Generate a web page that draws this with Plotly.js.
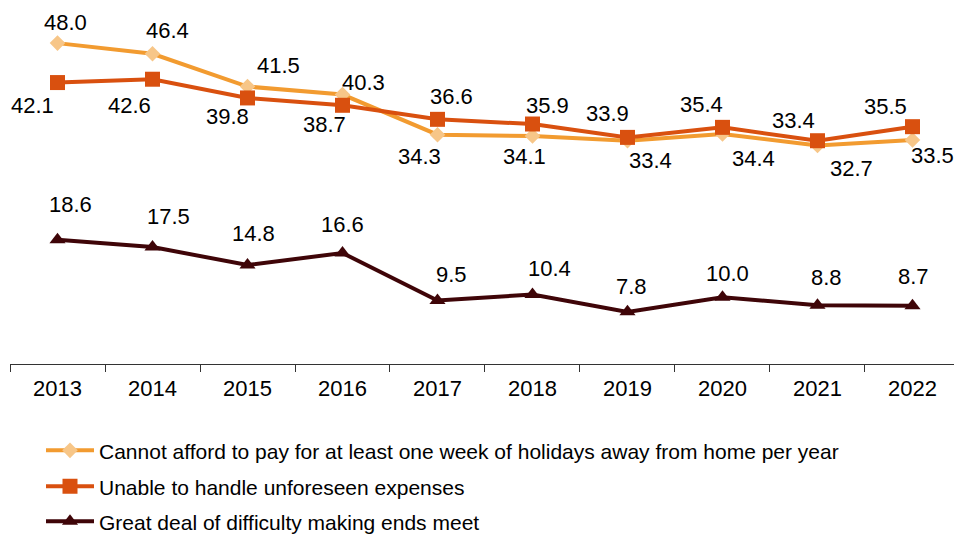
<!DOCTYPE html>
<html>
<head>
<meta charset="utf-8">
<script src="https://cdn.plot.ly/plotly-3.0.1.min.js"></script>
<style>html,body{margin:0;padding:0;background:#fff;}#chart{width:954px;height:535px;}</style>
</head>
<body>
<div id="chart"></div>
<script>
const years = ["2013","2014","2015","2016","2017","2018","2019","2020","2021","2022"];
const holidays = [48.0, 46.4, 41.5, 40.3, 34.3, 34.1, 33.4, 34.4, 32.7, 33.5];
const unforeseen = [42.1, 42.6, 39.8, 38.7, 36.6, 35.9, 33.9, 35.4, 33.4, 35.5];
const endsMeet = [18.6, 17.5, 14.8, 16.6, 9.5, 10.4, 7.8, 10.0, 8.8, 8.7];
const names = [
  "Cannot afford to pay for at least one week of holidays away from home per year",
  "Unable to handle unforeseen expenses",
  "Great deal of difficulty making ends meet"
];

// label offsets in pixels (dx right, dy down)
const offHolidays = [[8,-21],[15,-23],[31,-21],[21,-12],[-18,22],[-8,20],[23,20],[31,24],[34,23],[20,15]];
const offUnforeseen = [[-25,23],[-23,26],[-20,19],[-18,19],[14,-23],[15,-19],[-20,-24],[-21,-23],[-24,-20],[-27,-20]];
const offEnds = [[13,-35],[16,-31],[6,-32],[0,-29],[14,-26],[17,-26],[4,-25],[5,-24],[9,-28],[1,-29]];

const FONT = "Liberation Sans, Arial, sans-serif";
const cOrange = "#F29B30", cDiamond = "#F7C688", cRed = "#D9500F", cDark = "#3F0508";

const traces = [
  {x: years, y: holidays, name: names[0], type: "scatter", mode: "lines+markers",
   line: {color: cOrange, width: 4}, marker: {symbol: "diamond", size: 12, color: cDiamond}, legend: "legend", cliponaxis: false},
  {x: years, y: unforeseen, name: names[1], type: "scatter", mode: "lines+markers",
   line: {color: cRed, width: 4}, marker: {symbol: "square", size: 15, color: cRed}, legend: "legend2", cliponaxis: false},
  {x: years, y: endsMeet, name: names[2], type: "scatter", mode: "lines+markers",
   line: {color: cDark, width: 4}, marker: {symbol: "triangle-up", size: 14, color: cDark}, legend: "legend3", cliponaxis: false}
];

const annotations = [];
const groups = [[holidays, offHolidays], [unforeseen, offUnforeseen], [endsMeet, offEnds]];
for (let g = 0; g < groups.length; g++) {
  const vals = groups[g][0], offs = groups[g][1];
  for (let i = 0; i < vals.length; i++) {
    annotations.push({x: i, y: vals[i], xref: "x", yref: "y", text: vals[i].toFixed(1), showarrow: false,
      xanchor: "center", yanchor: "middle",
      xshift: offs[i][0], yshift: -offs[i][1], font: {family: FONT, size: 22, color: "#000000"}});
  }
}

function leg(ycenter) {
  return {xref: "container", yref: "container", x: 41/954, y: 1 - ycenter/535, xanchor: "left", yanchor: "middle",
    font: {family: FONT, size: 21, color: "#000"}, bgcolor: "rgba(0,0,0,0)", borderwidth: 0, itemwidth: 48};
}

const layout = {
  width: 954, height: 535,
  margin: {l: 10, r: 0, t: 0, b: 171, pad: 0, autoexpand: false},
  paper_bgcolor: "#fff", plot_bgcolor: "#fff",
  showlegend: true,
  xaxis: {type: "category", range: [-0.5, 9.437], tickson: "boundaries", ticks: "outside", ticklen: 7,
    tickcolor: "#333", tickwidth: 1, showline: true, linecolor: "#333", linewidth: 1, showgrid: false, zeroline: false,
    tickangle: 0, automargin: false, ticklabelstandoff: 5,
    tickfont: {family: FONT, size: 22, color: "#000"}, fixedrange: true},
  yaxis: {range: [0, 54.45], visible: false, showgrid: false, zeroline: false, fixedrange: true},
  legend: leg(450.7),
  legend2: leg(486.7),
  legend3: leg(521.7),
  annotations: annotations
};

Plotly.newPlot("chart", traces, layout, {displayModeBar: false});
</script>
</body>
</html>
